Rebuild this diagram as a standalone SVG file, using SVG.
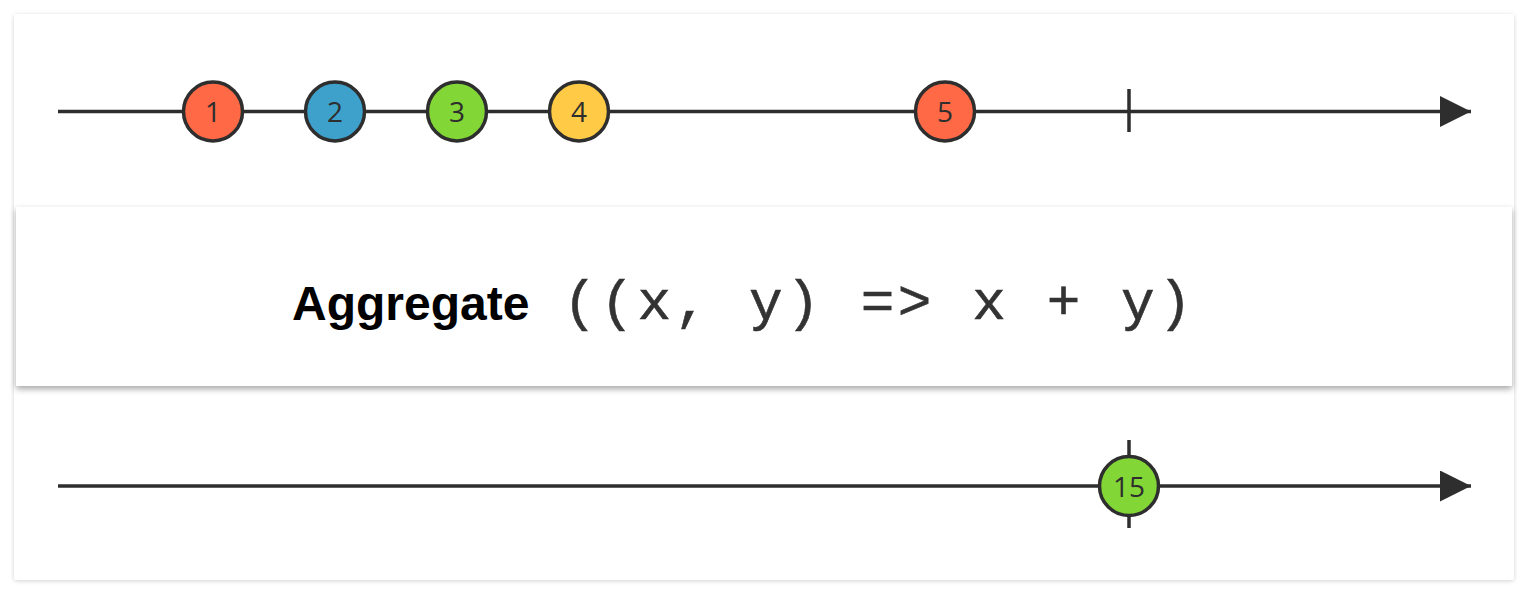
<svg xmlns="http://www.w3.org/2000/svg" width="1532" height="594" viewBox="0 0 1532 594">
<defs>
<filter id="cardShadow" x="-5%" y="-5%" width="110%" height="110%">
<feDropShadow dx="0" dy="1" stdDeviation="2" flood-color="#000" flood-opacity="0.18"/>
</filter>
<filter id="boxShadow" x="-5%" y="-20%" width="110%" height="140%">
<feDropShadow dx="0" dy="3" stdDeviation="3" flood-color="#000" flood-opacity="0.35"/>
</filter>
<marker id="arrow" viewBox="0 0 31 31" refX="31" refY="15.5" markerWidth="31" markerHeight="31" markerUnits="userSpaceOnUse" orient="auto">
<path d="M0,0 L31,15.5 L0,31 Z" fill="#2e2e2e"/>
</marker>
</defs>
<style>
.axis{stroke:#2e2e2e;stroke-width:3.5;fill:none}
.tick{stroke:#2e2e2e;stroke-width:3.5}
.marble{stroke:#2e2e2e;stroke-width:3.5}
.lbl{font-family:"Open Sans",Lato,"Liberation Sans",sans-serif;font-size:28px;fill:#2e2e2e;text-anchor:middle;dominant-baseline:central}
.red{fill:#ff6946}.blue{fill:#3ea1cb}.green{fill:#82d736}.yellow{fill:#ffcb46}
</style>
<rect x="0" y="0" width="1532" height="594" fill="#ffffff"/>
<rect id="card" x="14" y="14" width="1500" height="566" rx="3" fill="#ffffff" filter="url(#cardShadow)"/>
<g id="connectors">
<line class="axis" x1="58" y1="111.5" x2="1471" y2="111.5" marker-end="url(#arrow)"/>
<line class="tick" x1="1129" y1="89" x2="1129" y2="132"/>
<line class="axis" x1="58" y1="486" x2="1471" y2="486" marker-end="url(#arrow)"/>
<line class="tick" x1="1129" y1="440" x2="1129" y2="528"/>
</g>
<g id="m1"><circle class="marble red" cx="213" cy="111.5" r="29.5"/><text class="lbl" x="213" y="111">1</text></g>
<g id="m2"><circle class="marble blue" cx="335" cy="111.5" r="29.5"/><text class="lbl" x="335" y="111">2</text></g>
<g id="m3"><circle class="marble green" cx="457" cy="111.5" r="29.5"/><text class="lbl" x="457" y="111">3</text></g>
<g id="m4"><circle class="marble yellow" cx="579" cy="111.5" r="29.5"/><text class="lbl" x="579" y="111">4</text></g>
<g id="m5"><circle class="marble red" cx="945" cy="111.5" r="29.5"/><text class="lbl" x="945" y="111">5</text></g>
<g id="operator">
<rect x="16" y="207" width="1496" height="179" fill="#ffffff" filter="url(#boxShadow)"/>
<text x="292" y="320" font-family="'Liberation Sans',Arial,sans-serif" font-weight="bold" font-size="48" fill="#000">Aggregate</text>
<text x="563" y="319" font-family="'Liberation Mono','Courier New',monospace" font-size="56" letter-spacing="3.6" fill="#333" stroke="#333" stroke-width="0.6" xml:space="preserve">((x, y) =&gt; x + y)</text>
</g>
<g id="m15"><circle class="marble green" cx="1129" cy="486" r="29.5"/><text class="lbl" x="1129" y="485.5">15</text></g>
</svg>
